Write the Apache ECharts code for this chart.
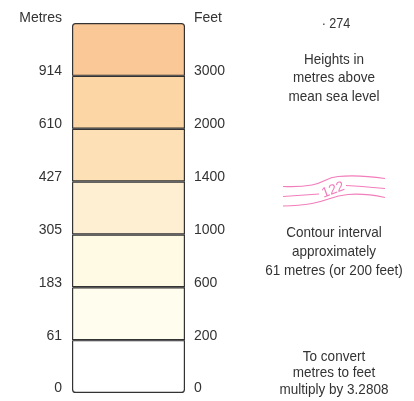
<!DOCTYPE html>
<html>
<head>
<meta charset="utf-8">
<script src="https://cdn.jsdelivr.net/npm/echarts@6/dist/echarts.min.js"></script>
<style>
  html, body { margin: 0; padding: 0; background: #ffffff; }
  #chart { width: 414px; height: 401px; }
</style>
</head>
<body>
<div id="chart"></div>
<script>
// Boundary tick labels (bottom to top)
var metresTicks = ['0', '61', '183', '305', '427', '610', '914'];
var feetTicks = ['0', '200', '600', '1000', '1400', '2000', '3000'];
// Each layer tint occupies one equal step of the scale (bottom to top)
var bandSteps = [1, 1, 1, 1, 1, 1, 1];
var bandColors = ['#FFFFFF', '#FEFDEE', '#FEFAE4', '#FEEED2', '#FDE0B5', '#FCD6A5', '#FAC897'];
var spotHeight = '274';
var contourValue = '122';
var noteHeights = ['Heights in', 'metres above', 'mean sea level'];
var noteContour = ['Contour interval', 'approximately', '61 metres (or 200 feet)'];
var noteConvert = ['To convert', 'metres to feet', 'multiply by 3.2808'];

var FONT = '"Liberation Sans", Arial, sans-serif';
var TXT = '#333333';
var PINK = '#F27DBB';

var chart = echarts.init(document.getElementById('chart'), null, { renderer: 'canvas' });

var series = bandSteps.map(function (v, i) {
  var radius = [0, 0, 0, 0];
  if (i === bandSteps.length - 1) radius = [3, 3, 0, 0];
  if (i === 0) radius = [0, 0, 3, 3];
  return {
    type: 'bar',
    stack: 'layers',
    barWidth: '100%',
    silent: true,
    data: [v],
    itemStyle: {
      color: bandColors[i],
      borderColor: '#333333',
      borderWidth: 1.2,
      borderRadius: radius
    }
  };
});

function axisLabel(ticks, align) {
  return {
    show: true,
    fontFamily: FONT,
    fontSize: 14,
    color: TXT,
    align: align,
    verticalAlign: 'bottom',
    lineHeight: 9,
    margin: align === 'right' ? 10 : 9,
    formatter: function (val) {
      var idx = Math.round(val);
      return ticks[idx] !== undefined ? ticks[idx] : '';
    }
  };
}

function smoothLine(points) {
  return {
    type: 'polyline',
    silent: true,
    shape: { points: points, smooth: 0.45 },
    style: { stroke: PINK, lineWidth: 1.2, fill: null }
  };
}

function note(lines, y, lh) {
  return {
    type: 'text', x: 334, y: y, scaleX: 0.9, silent: true,
    style: {
      text: lines.join('\n'), font: '15px ' + FONT, fill: TXT,
      align: 'center', verticalAlign: 'middle', lineHeight: lh
    }
  };
}

var option = {
  animation: false,
  backgroundColor: '#ffffff',
  grid: { left: 72, right: 229, top: 23, bottom: 8, containLabel: false },
  xAxis: {
    type: 'category',
    data: ['layers'],
    show: false,
    boundaryGap: true
  },
  yAxis: [
    {
      type: 'value',
      position: 'left',
      min: 0, max: 7, interval: 1,
      name: 'Metres',
      nameLocation: 'end',
      nameGap: 0,
      nameTextStyle: {
        fontFamily: FONT, fontSize: 14, color: TXT,
        align: 'right', verticalAlign: 'bottom', lineHeight: 9,
        padding: [0, 10, 0, 0]
      },
      axisLine: { show: false },
      axisTick: { show: false },
      splitLine: { show: false },
      axisLabel: axisLabel(metresTicks, 'right')
    },
    {
      type: 'value',
      position: 'right',
      min: 0, max: 7, interval: 1,
      name: 'Feet',
      nameLocation: 'end',
      nameGap: 0,
      nameTextStyle: {
        fontFamily: FONT, fontSize: 14, color: TXT,
        align: 'left', verticalAlign: 'bottom', lineHeight: 9,
        padding: [0, 0, 0, 9]
      },
      axisLine: { show: false },
      axisTick: { show: false },
      splitLine: { show: false },
      axisLabel: axisLabel(feetTicks, 'left')
    }
  ],
  series: series,
  graphic: [
    {
      type: 'text', x: 336, y: 24, scaleX: 0.9, silent: true,
      style: { text: '\u00B7 ' + spotHeight, font: '14px ' + FONT, fill: TXT,
        align: 'center', verticalAlign: 'middle' }
    },
    note(noteHeights, 78, 18.5),
    smoothLine([[283, 186.5], [312, 185], [338, 176.5], [385, 178.5]]),
    smoothLine([[283, 196.5], [319, 194]]),
    smoothLine([[346, 185.5], [362, 186.5], [385, 188.5]]),
    smoothLine([[283, 206], [312, 203.5], [348, 194.5], [385, 197.5]]),
    {
      type: 'text', x: 333, y: 190, rotation: 0.36, silent: true,
      style: {
        text: contourValue, font: '14px ' + FONT, fill: PINK,
        align: 'center', verticalAlign: 'middle'
      }
    },
    note(noteContour, 252, 19),
    note(noteConvert, 373, 16.5)
  ]
};

chart.setOption(option);
</script>
</body>
</html>
